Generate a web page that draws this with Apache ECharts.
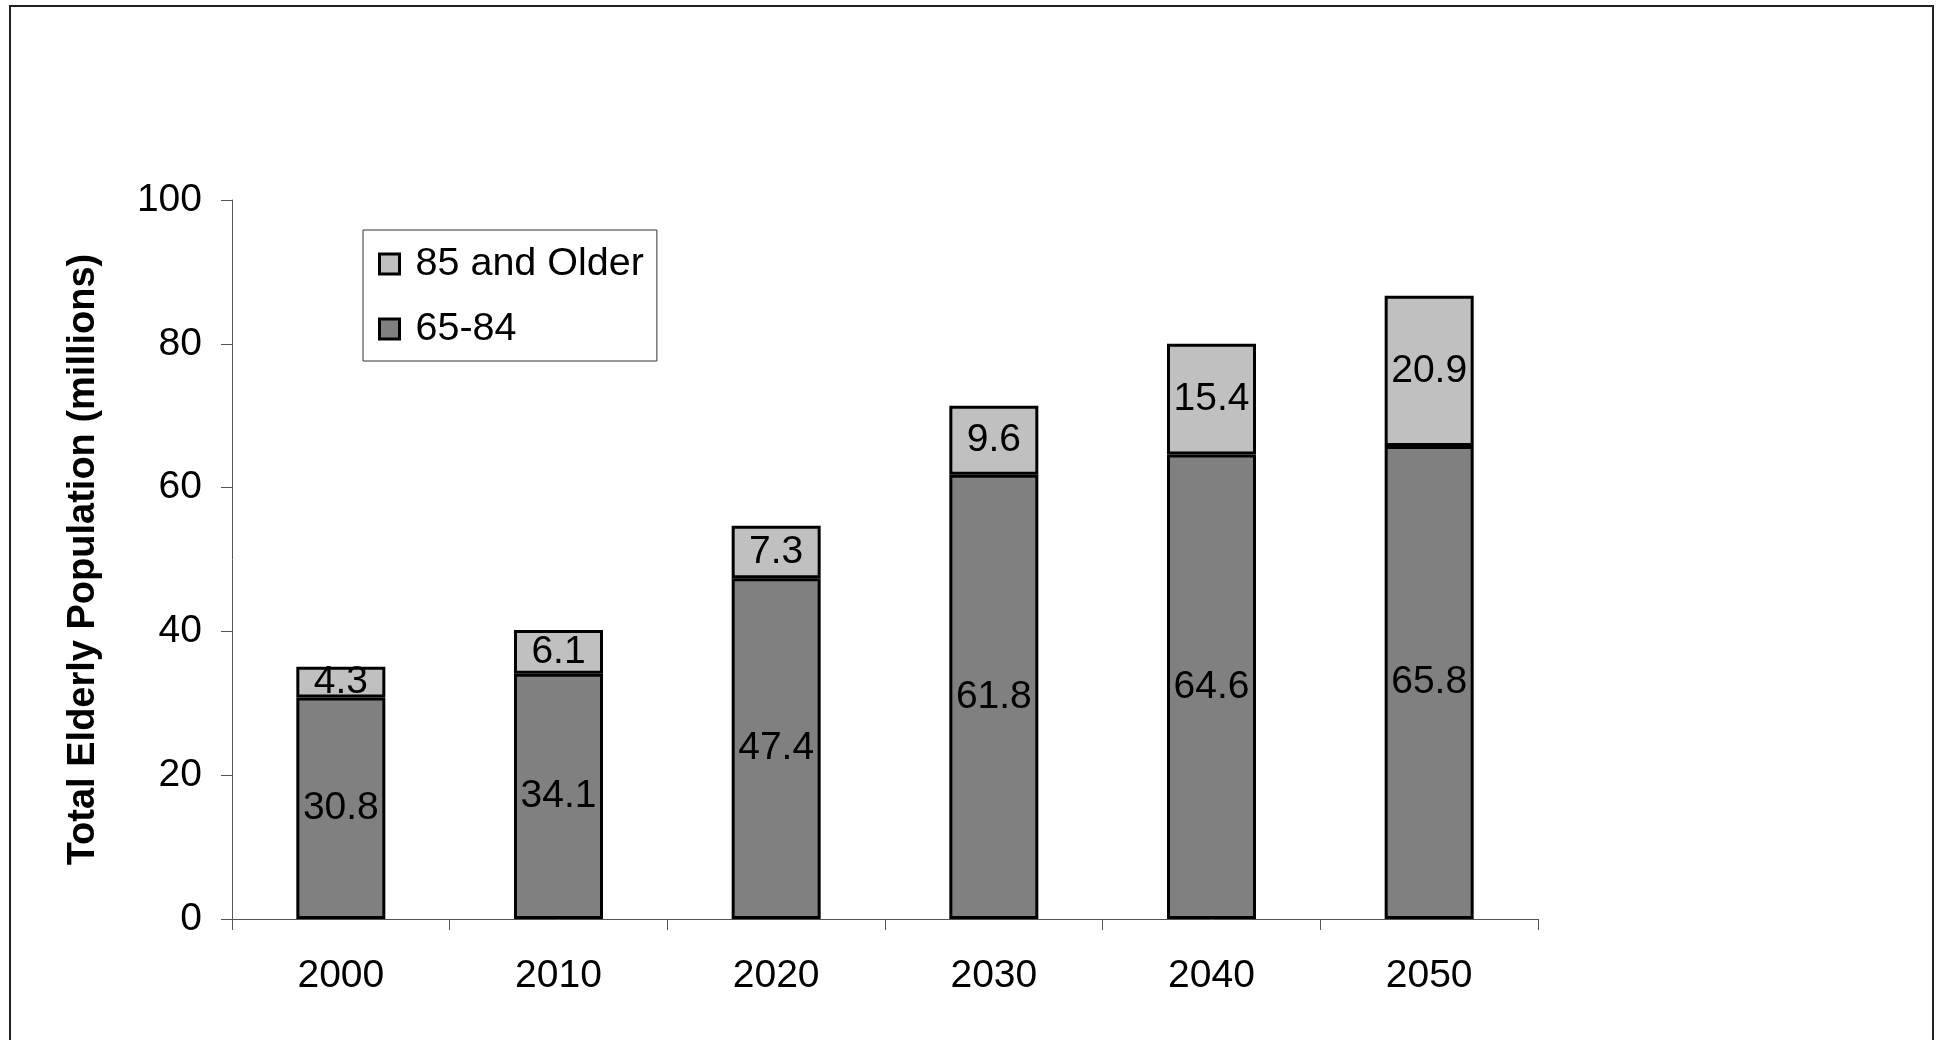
<!DOCTYPE html>
<html>
<head>
<meta charset="utf-8">
<script src="https://cdn.jsdelivr.net/npm/echarts@6/dist/echarts.min.js"></script>
<style>
html,body{margin:0;padding:0;background:#fff;}
#frame{position:absolute;left:9px;top:5px;width:1925px;height:1100px;border:2px solid #222;box-sizing:border-box;}
#chart{position:absolute;left:0;top:0;width:1946px;height:1040px;}
</style>
</head>
<body>
<div id="frame"></div>
<div id="chart"></div>
<script>
const years = ['2000', '2010', '2020', '2030', '2040', '2050'];
const age65to84 = [30.8, 34.1, 47.4, 61.8, 64.6, 65.8];
const age85plus = [4.3, 6.1, 7.3, 9.6, 15.4, 20.9];
const yTicks = { min: 0, max: 100, interval: 20 };
const seriesNames = ['65-84', '85 and Older'];

const FONT = 'Liberation Sans, Arial, Helvetica, sans-serif';
const chart = echarts.init(document.getElementById('chart'), null, { renderer: 'canvas' });

const labelStyle = {
  show: true,
  position: 'inside',
  color: '#000',
  fontSize: 39,
  fontFamily: FONT
};

chart.setOption({
  animation: false,
  backgroundColor: 'transparent',
  grid: { left: 232, right: 408, top: 200, bottom: 121, containLabel: false },
  legend: {
    data: [seriesNames[1], seriesNames[0]],
    orient: 'vertical',
    left: 363,
    top: 230,
    padding: [14, 13, 12, 15],
    itemGap: 25,
    itemWidth: 20,
    itemHeight: 20,
    borderColor: '#333',
    borderWidth: 1,
    icon: 'rect',
    itemStyle: { borderColor: '#000', borderWidth: 3 },
    textStyle: { fontSize: 39.5, fontFamily: FONT, color: '#000', padding: [0, 0, 0, 11] }
  },
  xAxis: {
    type: 'category',
    data: years,
    boundaryGap: true,
    axisLine: { lineStyle: { color: '#555', width: 1 } },
    axisTick: { show: true, length: 11, inside: false, alignWithLabel: false, lineStyle: { color: '#555' } },
    axisLabel: { margin: 38, fontSize: 39, fontFamily: FONT, color: '#000' },
    splitLine: { show: false }
  },
  yAxis: {
    type: 'value',
    min: yTicks.min,
    max: yTicks.max,
    interval: yTicks.interval,
    name: 'Total Elderly Population (millions)',
    nameLocation: 'middle',
    nameGap: 129,
    nameRotate: 90,
    nameTextStyle: { fontSize: 38, fontWeight: 'bold', fontFamily: FONT, color: '#000' },
    axisLine: { show: true, lineStyle: { color: '#555', width: 1 } },
    axisTick: { show: true, length: 11, lineStyle: { color: '#555' } },
    axisLabel: { margin: 30, fontSize: 39, fontFamily: FONT, color: '#000' },
    splitLine: { show: false }
  },
  series: [
    {
      name: seriesNames[0],
      type: 'bar',
      stack: 'total',
      data: age65to84,
      barWidth: 89,
      itemStyle: { color: '#808080', borderColor: '#000', borderWidth: 3 },
      label: labelStyle
    },
    {
      name: seriesNames[1],
      type: 'bar',
      stack: 'total',
      data: age85plus,
      barWidth: 89,
      itemStyle: { color: '#c0c0c0', borderColor: '#000', borderWidth: 3 },
      label: labelStyle
    }
  ]
});
</script>
</body>
</html>
